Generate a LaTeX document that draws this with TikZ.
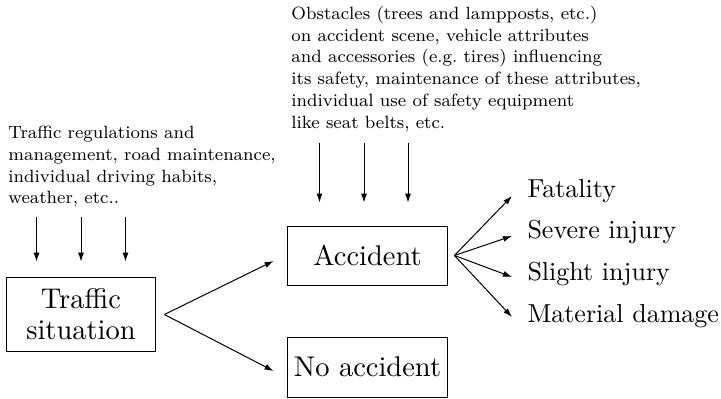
\documentclass[tikz,border=0pt]{standalone}
\usetikzlibrary{arrows.meta,calc}
\begin{document}
\begin{tikzpicture}[x=1pt,y=-1pt,
  box/.style={draw, line width=1pt, scale=2.85, align=center, inner sep=0pt, font=\fontsize{10}{10.9}\selectfont},
  outtext/.style={scale=2.6, anchor=base west, inner sep=0pt, font=\normalsize},
  note/.style={scale=2.22, anchor=north west, align=left, inner sep=0pt, font=\fontsize{8}{9.8}\selectfont},
  arr/.style={line width=1pt, -{Latex[length=9pt,width=6pt]}}]
\useasboundingbox (0,0) rectangle (721,399);

% boxes
\node[box, minimum width=52.6pt, minimum height=26.3pt] (ts) at (81,314.5) {Traffic\\situation};
\node[box, minimum width=55.8pt, minimum height=20.7pt] (acc) at (367.5,255.5) {Accident};
\node[box, minimum width=55.8pt, minimum height=21.05pt] (noacc) at (367.5,367) {No accident};

% outcomes
\node[outtext] (fat) at (527,197) {Fatality};
\node[outtext] (sev) at (527,238) {Severe injury};
\node[outtext] (sli) at (527,280) {Slight injury};
\node[outtext] (mat) at (527,322) {Material damage};

% notes
\node[note] (n1) at (8,125.7) {Traffic regulations and\\management, road maintenance,\\individual driving habits,\\weather, etc..};
\node[note] (n2) at (291,5.7) {Obstacles (trees and lampposts, etc.)\\on accident scene, vehicle attributes\\and accessories (e.g.\ tires) influencing\\its safety, maintenance of these attributes,\\individual use of safety equipment\\like seat belts, etc.};

% influence arrows
\foreach \dx in {-44.5,0,44.5}
  \draw[arr] ($(ts.north)+(\dx,-59)$) -- ($(ts.north)+(\dx,-14)$);
\foreach \dx in {-48,-3.5,40.5}
  \draw[arr] ($(acc.north)+(\dx,-82)$) -- ($(acc.north)+(\dx,-22)$);

% fans
\coordinate (f1) at ($(ts.east)+(7,0)$);
\draw[arr] (f1) -- ($(acc.west)+(-13,5.5)$);
\draw[arr] (f1) -- ($(noacc.west)+(-13,4)$);

\coordinate (f2) at ($(acc.east)+(6,0)$);
\draw[arr] (f2) -- ($(fat.base west)+(-15,-1)$);
\draw[arr] (f2) -- ($(sev.base west)+(-15,-2)$);
\draw[arr] (f2) -- ($(sli.base west)+(-15,-3)$);
\draw[arr] (f2) -- ($(mat.base west)+(-15,-5)$);
\end{tikzpicture}
\end{document}
